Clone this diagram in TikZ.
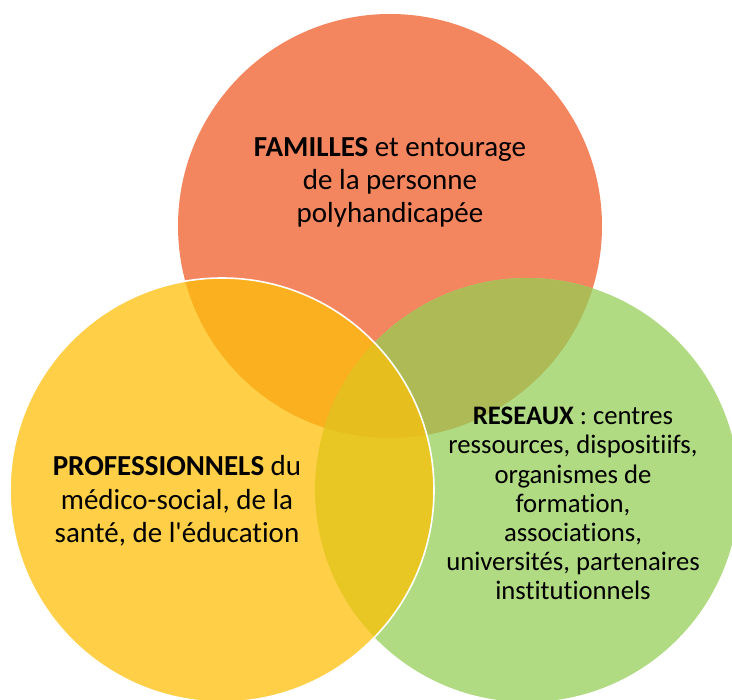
\documentclass[tikz,border=0pt]{standalone}
\usepackage{fontspec}
\setmainfont{Carlito}[Ligatures={NoCommon}]
\definecolor{cT}{HTML}{F4865F}
\definecolor{cL}{HTML}{FECF47}
\definecolor{cR}{HTML}{B0DB82}
\definecolor{cTL}{HTML}{FBB01F}
\definecolor{cTR}{HTML}{ADBA56}
\definecolor{cLR}{HTML}{E8C724}
\definecolor{cTLR}{HTML}{E6BF1E}
\tikzset{
  lbl/.style={align=center, text=black, inner sep=0pt, anchor=base, font=\fontsize{29}{33}\selectfont},
}
\begin{document}
\begin{tikzpicture}[x=1pt,y=-1pt]
\useasboundingbox (0,0) rectangle (732,700);
\def\T{(390,226) circle (212)}
\def\L{(222,490) circle (212)}
\def\R{(527,490) circle (212)}
\fill[cT] \T;
\fill[cR] \R;
\fill[cL] \L;
\begin{scope}\clip \T; \fill[cTL] \L; \end{scope}
\begin{scope}\clip \T; \fill[cTR] \R; \end{scope}
\begin{scope}\clip \L; \fill[cLR] \R; \end{scope}
\begin{scope}\clip \T; \clip \L; \fill[cTLR] \R; \end{scope}
\draw[white, line width=1.6pt] \L;
\node[lbl] (fam) at (390,223) {\textbf{FAMILLES} et entourage\\de la personne\\polyhandicapée};
\node[lbl, font=\fontsize{29}{33.5}\selectfont] (pro) at (177,543) {\textbf{PROFESSIONNELS} du\\médico-social, de la\\santé, de l\textquotesingle éducation};
\node[lbl, font=\fontsize{26.7}{29.2}\selectfont] (res) at (573,600) {\textbf{RESEAUX} : centres\\ressources, dispositiifs,\\organismes de\\formation,\\associations,\\universités, partenaires\\institutionnels};
\end{tikzpicture}
\end{document}
